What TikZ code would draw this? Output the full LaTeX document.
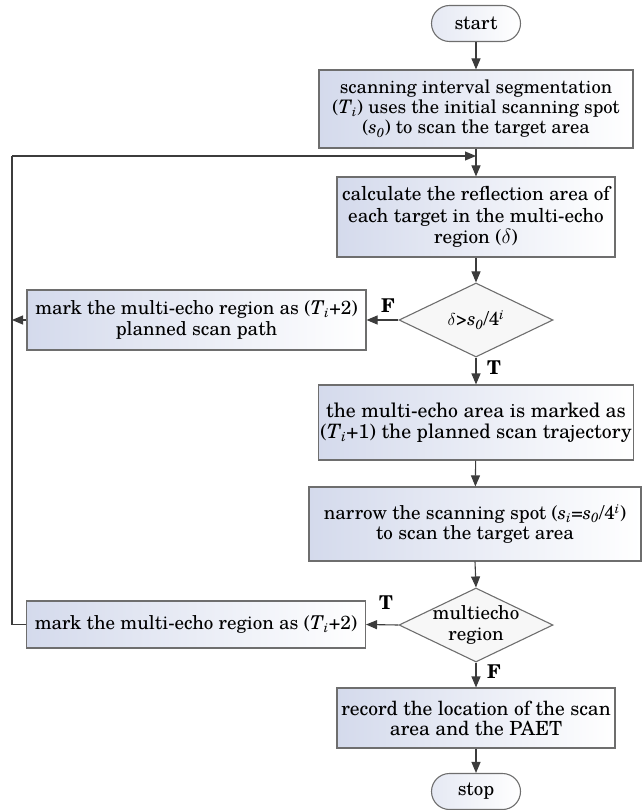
\documentclass[tikz,border=0pt]{standalone}
\usepackage{fontspec}
\setmainfont{texgyreschola}[Extension=.otf, UprightFont=*-regular, BoldFont=*-bold, ItalicFont=*-italic, BoldItalicFont=*-bolditalic]
\usetikzlibrary{arrows.meta,shapes.geometric,calc}
\definecolor{boxl}{RGB}{212,218,236}
\definecolor{edge}{RGB}{110,110,110}
\definecolor{conn}{RGB}{60,60,60}
\newcommand{\ital}[1]{\textit{#1}}
\newcommand{\Tsub}{\ital{T}\textsubscript{\ital{i}}}
\newcommand{\ssub}[1]{\ital{s}\textsubscript{\ital{#1}}}
\newcommand{\fourpow}{4\textsuperscript{\ital{i}}}
\begin{document}
\begin{tikzpicture}[x=1pt,y=-1pt,
  every node/.style={font=\fontsize{19}{20.5}\selectfont},
  box/.style={draw=edge, line width=1.1pt, rectangle, left color=boxl, right color=white, align=center, inner sep=2pt},
  term/.style={draw=edge, line width=1.1pt, rectangle, rounded corners=18pt, left color=boxl!60, right color=white, minimum width=89pt, minimum height=36pt},
  dia/.style={draw=edge, line width=1.1pt, diamond, fill=gray!6, minimum width=154pt, minimum height=74pt, inner sep=0pt},
  diatext/.style={align=center, inner sep=0pt},
  lab/.style={font=\fontsize{19}{21}\selectfont\bfseries, inner sep=0pt},
  conn/.style={draw=conn, line width=1.1pt, -{Triangle[length=11pt,width=9pt]}},
  plain/.style={draw=conn, line width=1.1pt}
]
\useasboundingbox (0,0) rectangle (642,810);

\node[term] (start) at (476,23.5) {start};
\node[box, minimum width=314pt, minimum height=78pt, font=\fontsize{18.6}{20}\selectfont] (b1) at (476,109)
  {scanning interval segmentation\\ (\Tsub) uses the initial scanning spot\\ (\ssub{0}) to scan the target area};
\node[box, minimum width=278pt, minimum height=80pt, font=\fontsize{19.2}{21.5}\selectfont] (b2) at (476,217)
  {calculate the reflection area of\\ each target in the multi-echo\\ region ($\delta$)};
\node[dia] (d1) at (476,320) {};
\node[diatext] (d1t) at (d1) {$\delta$>\ssub{0}/\fourpow};
\node[box, minimum width=339pt, minimum height=60pt] (bA) at (196.5,320)
  {mark the multi-echo region as (\Tsub+2)\\ planned scan path};
\node[box, minimum width=314pt, minimum height=75pt, font=\fontsize{19.8}{20.5}\selectfont] (b3) at (476,422.5)
  {the multi-echo area is marked as\\ (\Tsub+1) the planned scan trajectory};
\node[box, minimum width=332pt, minimum height=74pt] (b4) at (475,524)
  {narrow the scanning spot (\ssub{i}=\ssub{0}/\fourpow)\\ to scan the target area};
\node[dia] (d2) at (476,625) {};
\node[diatext] (d2t) at (d2) {multiecho\\ region};
\node[box, minimum width=339pt, minimum height=47pt] (bB) at (196,624.5)
  {mark the multi-echo region as (\Tsub+2)};
\node[box, minimum width=278pt, minimum height=60pt, font=\fontsize{19.5}{20}\selectfont] (b5) at (476,718)
  {record the location of the scan\\ area and the PAET};
\node[term] (stop) at (476,791.5) {stop};

\node[lab] (lF1) at (388,306) {F};
\node[lab] (lT1) at (494,368) {T};
\node[lab] (lT2) at (386,603) {T};
\node[lab] (lF2) at (494,672) {F};

\coordinate (loopL) at (12,156);
\coordinate (join) at (476,156);

\draw[conn] (start) -- (b1);
\draw[conn] (b1) -- (b2);
\draw[conn] (b2) -- (d1);
\draw[conn] (d1.west) -- (bA.east);
\draw[conn] (bA.west) -- (bA.west -| loopL);
\draw[conn] (d1.south) -- (b3.north);
\draw[conn] (b3) -- (b4);
\draw[conn] (b4.south) -- (d2.north);
\draw[conn] (d2.west) -- (bB.east);
\draw[plain] (bB.west) -| (loopL);
\draw[conn] (loopL) -- (join);
\draw[conn] (d2.south) -- (b5.north);
\draw[conn] (b5) -- (stop);
\end{tikzpicture}
\end{document}
